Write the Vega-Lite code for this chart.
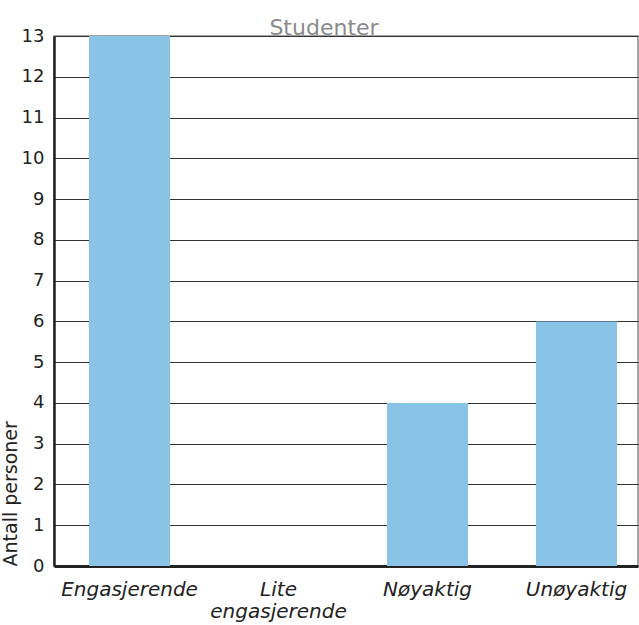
{
  "$schema": "https://vega.github.io/schema/vega-lite/v6.json",
  "width": 584,
  "height": 530,
  "autosize": "none",
  "padding": {"left": 54, "top": 36, "right": 1, "bottom": 59},
  "background": "white",
  "title": {"text": "Studenter", "color": "#8a8a8a", "fontSize": 22, "font": "DejaVu Sans", "fontWeight": "normal", "dx": -22, "offset": -35, "baseline": "bottom"},
  "config": {"view": {"stroke": "#888888", "strokeWidth": 1.5}, "font": "DejaVu Sans"},
  "data": {"values": [
    {"kategori": "Engasjerende", "antall": 13},
    {"kategori": "Lite engasjerende", "antall": 0},
    {"kategori": "Nøyaktig", "antall": 4},
    {"kategori": "Unøyaktig", "antall": 6}
  ]},
  "mark": {"type": "bar", "color": "#89c4e6"},
  "encoding": {
    "x": {"field": "kategori", "type": "nominal", "sort": null,
      "scale": {"paddingInner": 0.456, "paddingOuter": 0.188, "align": 0.625},
      "axis": {"title": null, "labelAngle": 0, "labelFontStyle": "italic", "labelFontSize": 20, "labelColor": "#222222",
        "labelExpr": "split(datum.label, ' ')", "labelPadding": 13, "labelLineHeight": 22, "ticks": false,
        "domainColor": "#222222", "domainWidth": 3}},
    "y": {"field": "antall", "type": "quantitative",
      "scale": {"domain": [0, 13], "nice": false},
      "axis": {"title": "Antall personer", "titleFontSize": 19, "titleFontWeight": "normal", "titleColor": "#222222",
        "titleAnchor": "start", "titlePadding": 1, "values": [0,1,2,3,4,5,6,7,8,9,10,11,12,13],
        "labelFontSize": 18, "labelColor": "#222222", "labelPadding": 10, "ticks": false,
        "gridColor": "#333333", "gridWidth": 1, "gridOpacity": 1,
        "domainColor": "#222222", "domainWidth": 2.5}}
  }
}
